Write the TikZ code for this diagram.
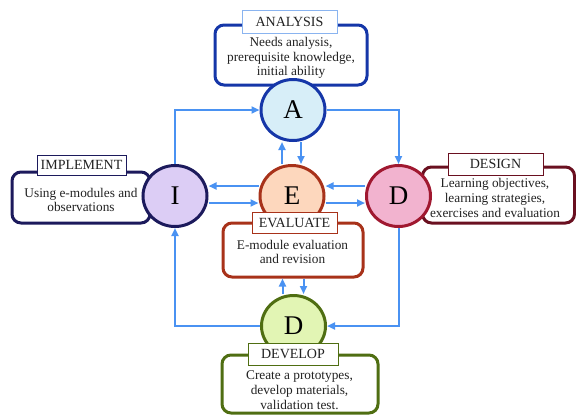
\documentclass[tikz,border=0pt]{standalone}
\usepackage{fontspec}
\setmainfont{Liberation Serif}
\usetikzlibrary{shapes.geometric,arrows.meta,calc}
\definecolor{anblue}{RGB}{21,54,168}
\definecolor{anlight}{RGB}{138,180,240}
\definecolor{anfill}{RGB}{215,238,248}
\definecolor{imnavy}{RGB}{28,26,92}
\definecolor{imfill}{RGB}{220,205,245}
\definecolor{demaroon}{RGB}{106,16,32}
\definecolor{decirc}{RGB}{160,24,48}
\definecolor{defill}{RGB}{242,179,207}
\definecolor{evrust}{RGB}{168,50,26}
\definecolor{evfill}{RGB}{253,215,189}
\definecolor{dvolive}{RGB}{79,110,18}
\definecolor{dvfill}{RGB}{226,245,180}
\definecolor{arrowblue}{RGB}{74,146,242}
\definecolor{txt}{RGB}{34,34,34}
\tikzset{
  bigbox/.style={draw, line width=3pt, rounded corners=9pt, fill=white, inner sep=0pt},
  labelbox/.style={draw, line width=1pt, fill=white, inner sep=0pt, font=\fontsize{14}{16}\selectfont, text=txt},
  boxtext/.style={align=center, font=\fontsize{13.3}{14.8}\selectfont, text=txt, inner sep=0pt},
  phase/.style={ellipse, draw, line width=3pt, minimum width=64pt, minimum height=61pt, inner sep=0pt, font=\fontsize{27}{27}\selectfont, text=black},
  arr/.style={draw=arrowblue, line width=2pt, -{Triangle[length=8pt,width=7pt]}},
}
\begin{document}
\begin{tikzpicture}[x=1pt,y=-1pt]
\useasboundingbox (0,0) rectangle (576,416);
% outer boxes
\node[bigbox, draw=anblue, minimum width=152pt, minimum height=60pt] (anbox) at (291,55) {};
\node[bigbox, draw=imnavy, minimum width=138pt, minimum height=51pt] (imbox) at (81,197.5) {};
\node[bigbox, draw=demaroon, minimum width=152pt, minimum height=56pt] (debox) at (498.5,195) {};
\node[bigbox, draw=evrust, minimum width=140pt, minimum height=54pt] (evbox) at (293,250) {};
\node[bigbox, draw=dvolive, minimum width=156pt, minimum height=58pt] (dvbox) at (300,384) {};
% box texts
\node[boxtext] (antext) at (291,58) {Needs analysis,\\prerequisite knowledge,\\initial ability};
\node[boxtext] (imtext) at (81,200) {Using e-modules and\\observations};
\node[boxtext] (detext) at (495,198) {Learning objectives,\\learning strategies,\\exercises and evaluation};
\node[boxtext] (evtext) at (292.5,252) {E-module evaluation\\and revision};
\node[boxtext] (dvtext) at (299.5,390) {Create a prototypes,\\develop materials,\\validation test.};
% circles
\node[phase, draw=anblue, fill=anfill] (A) at (293,110) {A};
\node[phase, draw=imnavy, fill=imfill] (I) at (175,196) {I};
\node[phase, draw=evrust, fill=evfill] (E) at (292,196) {E};
\node[phase, draw=decirc, fill=defill] (Dd) at (398.5,196) {D};
\node[phase, draw=dvolive, fill=dvfill] (Dv) at (293.5,326) {D};
% label boxes
\node[labelbox, draw=anlight, minimum width=95pt, minimum height=23pt] (anlab) at (289.5,21.5) {ANALYSIS};
\node[labelbox, draw=imnavy, minimum width=89pt, minimum height=20pt] (imlab) at (81.5,165) {IMPLEMENT};
\node[labelbox, draw=demaroon, minimum width=95pt, minimum height=22pt] (delab) at (495.5,164) {DESIGN};
\node[labelbox, draw=evrust, minimum width=85pt, minimum height=21pt] (evlab) at (294.5,222.5) {EVALUATE};
\node[labelbox, draw=dvolive, minimum width=90pt, minimum height=22pt] (dvlab) at (293,354) {DEVELOP};
% connectors
\draw[arr] (I.north) |- (A.west);
\draw[arr] (A.east) -| (Dd.north);
\draw[arr] ([xshift=-10pt]E.north) -- ([xshift=-10pt]E.north |- A.south);
\draw[arr] ([xshift=9pt]E.north |- A.south) -- ([xshift=9pt]E.north);
\draw[arr] ([yshift=10pt]E.west) -- ([yshift=10pt]I.east);
\draw[arr] ([yshift=10pt]Dd.west) -- ([yshift=10pt]E.east);
\draw[arr] ([yshift=-7pt]I.east) -- ([yshift=-7pt]E.west);
\draw[arr] ([yshift=-7pt]E.east) -- ([yshift=-7pt]Dd.west);
\draw[arr] (Dv.west) -| (I.south);
\draw[arr] (Dd.south) |- (Dv.east);
\draw[arr] ([xshift=-11pt]Dv.north) -- ([xshift=-11pt]Dv.north |- evbox.south);
\draw[arr] ([xshift=10pt]Dv.north |- evbox.south) -- ([xshift=10pt]Dv.north);
\end{tikzpicture}
\end{document}
